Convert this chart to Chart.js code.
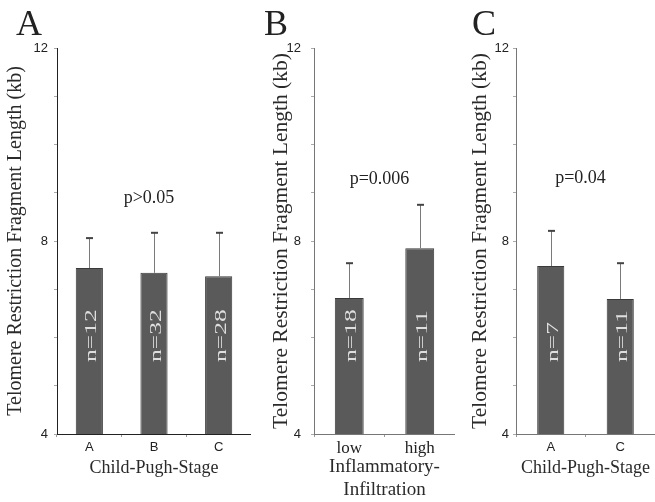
<!DOCTYPE html>
<html>
<head>
<meta charset="utf-8">
<script src="https://cdn.jsdelivr.net/npm/chart.js@4.4.0/dist/chart.umd.min.js"></script>
<style>
body { margin: 0; background: #fff; }
#wrap { position: relative; width: 655px; height: 502px; overflow: hidden; }
.panel { position: absolute; top: 0; height: 502px; }
</style>
</head>
<body>
<div id="wrap">
	<div class="panel" style="left:0;width:251px"><canvas id="chartA"></canvas></div>
	<div class="panel" style="left:264px;width:191px"><canvas id="chartB"></canvas></div>
	<div class="panel" style="left:463px;width:192px"><canvas id="chartC"></canvas></div>
</div>
<script>
// values (kb)
const stageLabelsA = ['A', 'B', 'C'];
const meansA = [7.44, 7.34, 7.27];
const sdA = [0.62, 0.83, 0.90];
const countsA = [12, 32, 28];

const infiltrationLabels = ['low', 'high'];
const meansB = [6.82, 7.85];
const sdB = [0.72, 0.90];
const countsB = [18, 11];

const stageLabelsC = ['A', 'C'];
const meansC = [7.48, 6.80];
const sdC = [0.73, 0.74];
const countsC = [7, 11];

const pValues = ['p>0.05', 'p=0.006', 'p=0.04'];
const yMin = 4, yMax = 12, yLabelStep = 4;
const yTitle = 'Telomere Restriction Fragment Length (kb)';

const SERIF = '"Liberation Serif", "Times New Roman", serif';
const SANS = '"Liberation Sans", Arial, sans-serif';

function decorPlugin(panel){
	return {
		id: 'decor',
		afterDatasetsDraw(chart){
			const {ctx, chartArea} = chart;
			const y = chart.scales.y;
			const meta = chart.getDatasetMeta(0);
			ctx.save();
			meta.data.forEach((bar, i) => {
				let top = y.getPixelForValue(panel.means[i] + panel.sds[i]);
				ctx.strokeStyle = '#7a7a7a';
				ctx.lineWidth = 1;
				ctx.beginPath();
				ctx.moveTo(Math.round(bar.x) + 0.5, bar.y);
				ctx.lineTo(Math.round(bar.x) + 0.5, top);
				ctx.stroke();
				ctx.strokeStyle = '#444';
				ctx.lineWidth = 2;
				ctx.beginPath();
				ctx.moveTo(Math.round(bar.x) - 3, top);
				ctx.lineTo(Math.round(bar.x) + 4, top);
				ctx.stroke();

				// n= label inside the bar
				ctx.save();
				ctx.translate(bar.x + 7, chartArea.bottom - 72);
				ctx.rotate(-Math.PI / 2);
				ctx.scale(1.5, 1);
				ctx.font = '17px ' + SERIF;
				ctx.fillStyle = '#dedede';
				ctx.textAlign = 'left';
				ctx.textBaseline = 'alphabetic';
				ctx.fillText('n=' + panel.counts[i], 0, 0);
				ctx.restore();
			});

			ctx.fillStyle = '#222';
			ctx.textBaseline = 'alphabetic';
			ctx.textAlign = 'center';
			ctx.font = '18px ' + SERIF;
			ctx.fillText(panel.p, (chartArea.left + chartArea.right) / 2 - 5, y.getPixelForValue(panel.pAt));

			ctx.textAlign = 'left';
			ctx.font = '36px ' + SERIF;
			ctx.fillText(panel.letter, panel.letterX, 35);
			ctx.restore();
		}
	};
}

function makePanel(panel){
	new Chart(document.getElementById(panel.id), {
		type: 'bar',
		data: {
			labels: panel.labels,
			datasets: [{
				data: panel.means,
				backgroundColor: '#5a5a5a',
				borderColor: '#3a3a3a',
				borderWidth: 1,
				categoryPercentage: 1,
				barPercentage: panel.barPct
			}]
		},
		options: {
			responsive: true,
			maintainAspectRatio: false,
			animation: false,
			layout: { padding: { top: 48, left: 0, right: 0, bottom: 0 } },
			plugins: { legend: { display: false }, tooltip: { enabled: false } },
			scales: {
				x: {
					afterFit: s => { s.height = 68; },
					border: { display: true, color: panel.axisColor, width: 1 },
					grid: { drawOnChartArea: false, drawTicks: true, tickLength: 3, color: '#999' },
					ticks: {
						font: panel.xTickFont,
						color: '#222',
						padding: panel.xTickPad,
						maxRotation: 0
					},
					title: {
						display: true,
						text: panel.xTitle,
						font: { family: SERIF, size: panel.xTitleSize, lineHeight: 1.22 },
						color: '#2a2a2a',
						padding: { top: 0, bottom: panel.xTitlePad }
					}
				},
				y: {
					min: yMin,
					max: yMax,
					afterFit: s => { s.width = panel.yWidth; },
					border: { display: true, color: panel.axisColor, width: 1 },
					grid: { drawOnChartArea: false, drawTicks: true, tickLength: 3, color: '#aaa' },
					ticks: {
						stepSize: 1,
						autoSkip: false,
						padding: panel.yTickPad,
						font: { family: SANS, size: 13 },
						color: '#222',
						callback: v => (v % yLabelStep === 0 ? v : '')
					},
					title: {
						display: true,
						text: yTitle,
						font: { family: SERIF, size: panel.yTitleSize, lineHeight: 1.2 },
						color: '#2a2a2a',
						padding: { top: 4, bottom: 0 }
					}
				}
			}
		},
		plugins: [decorPlugin(panel)]
	});
}

makePanel({
	id: 'chartA', labels: stageLabelsA, means: meansA, sds: sdA, counts: countsA,
	p: pValues[0], pAt: 8.79, letter: 'A', letterX: 16,
	barPct: 0.42, axisColor: '#222', yWidth: 57, yTickPad: 6, yTitleSize: 20,
	xTickFont: { family: SANS, size: 13 }, xTickPad: 3,
	xTitle: 'Child-Pugh-Stage', xTitleSize: 18, xTitlePad: 23
});

makePanel({
	id: 'chartB', labels: infiltrationLabels, means: meansB, sds: sdB, counts: countsB,
	p: pValues[1], pAt: 9.18, letter: 'B', letterX: 0,
	barPct: 0.41, axisColor: '#777', yWidth: 50, yTickPad: 10, yTitleSize: 21.5,
	xTickFont: { family: SERIF, size: 17 }, xTickPad: 1,
	xTitle: ['Inflammatory-', 'Infiltration'], xTitleSize: 19, xTitlePad: 0
});

makePanel({
	id: 'chartC', labels: stageLabelsC, means: meansC, sds: sdC, counts: countsC,
	p: pValues[2], pAt: 9.2, letter: 'C', letterX: 9,
	barPct: 0.39, axisColor: '#777', yWidth: 53, yTickPad: 4, yTitleSize: 21.5,
	xTickFont: { family: SANS, size: 13 }, xTickPad: 3,
	xTitle: 'Child-Pugh-Stage', xTitleSize: 18, xTitlePad: 23
});
</script>
</body>
</html>
